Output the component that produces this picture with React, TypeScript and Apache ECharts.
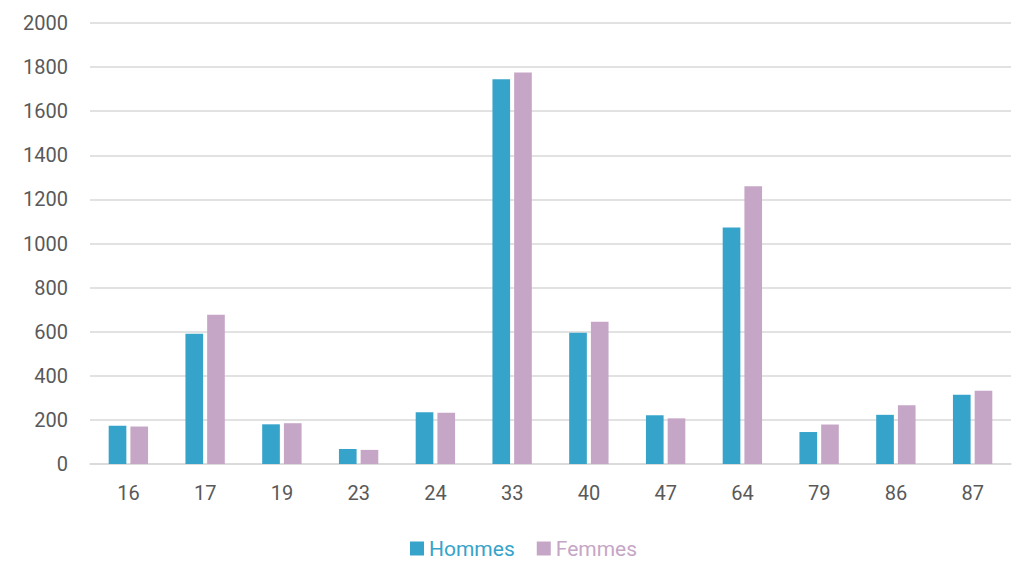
import React, { useEffect, useRef } from "react";
import * as echarts from "echarts";

const categories = ["16", "17", "19", "23", "24", "33", "40", "47", "64", "79", "86", "87"];
const hommes = [174, 591, 180, 68, 235, 1745, 595, 221, 1072, 145, 223, 314];
const femmes = [170, 677, 185, 64, 232, 1776, 645, 207, 1260, 179, 267, 332];
const seriesNames = ["Hommes", "Femmes"];
const colors = ["#36a3ca", "#c6a6c6"];

export default function App() {
  const ref = useRef<HTMLDivElement>(null);
  useEffect(() => {
    if (!ref.current) return;
    const chart = echarts.init(ref.current, null, { renderer: "svg" });
    const font = "Roboto, 'Liberation Sans', sans-serif";
    chart.setOption({
      animation: false,
      backgroundColor: "#ffffff",
      grid: { left: 90, right: 4, top: 23, bottom: 101, containLabel: false },
      legend: {
        data: seriesNames.map((n, i) => ({ name: n, textStyle: { color: colors[i] } })),
        left: 405,
        top: 533,
        itemWidth: 14,
        itemHeight: 14,
        itemGap: 22,
        icon: "rect",
        textStyle: { fontSize: 21, fontFamily: font },
      },
      xAxis: {
        type: "category",
        data: categories,
        axisLine: { lineStyle: { color: "#d9d9d9", width: 1.5 } },
        axisTick: { show: false },
        axisLabel: { color: "#595959", fontSize: 20, fontFamily: font, margin: 19 },
      },
      yAxis: {
        type: "value",
        min: 0,
        max: 2000,
        interval: 200,
        axisLine: { show: false },
        axisTick: { show: false },
        splitLine: { lineStyle: { color: "#d9d9d9", width: 1.5 } },
        axisLabel: {
          color: "#595959",
          fontSize: 20,
          fontFamily: font,
          margin: 22,
          formatter: (v: number) => String(v),
        },
      },
      series: [
        {
          name: seriesNames[0],
          type: "bar",
          data: hommes,
          itemStyle: { color: colors[0] },
          barWidth: "23%",
          barGap: "23%",
        },
        {
          name: seriesNames[1],
          type: "bar",
          data: femmes,
          itemStyle: { color: colors[1] },
          barWidth: "23%",
          barGap: "23%",
        },
      ],
    });
    return () => chart.dispose();
  }, []);
  return (
    <div
      ref={ref}
      style={{ position: "absolute", left: 0, top: 0, width: 1015, height: 565 }}
    />
  );
}
